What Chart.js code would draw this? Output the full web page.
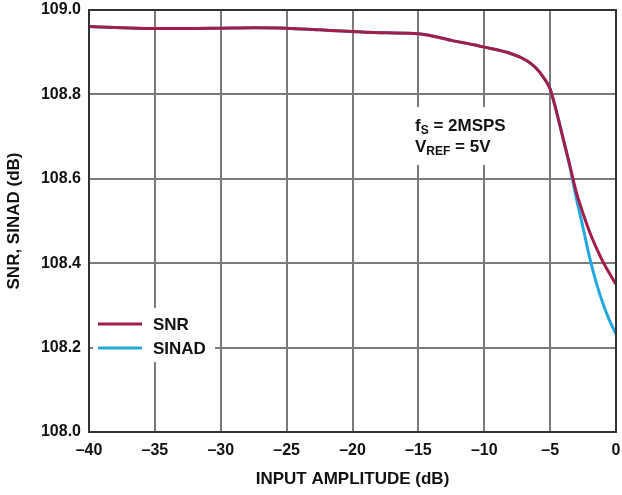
<!DOCTYPE html>
<html>
<head>
<meta charset="utf-8">
<script src="https://cdn.jsdelivr.net/npm/chart.js@4/dist/chart.umd.min.js"></script>
<style>
  html, body { margin: 0; padding: 0; background: #fff; }
  #wrap { width: 622px; height: 495px; }
</style>
</head>
<body>
<div id="wrap"><canvas id="snrChart" width="622" height="495"></canvas></div>
<script>
// input amplitude (dB)
const amplitude = [-40, -37.5, -35, -32.5, -30, -27.5, -25, -22.5, -20, -17.5, -15, -12.5, -10, -8, -7, -6.5, -6, -5.5, -5, -4.5, -4, -3.5, -3, -2.5, -2, -1.5, -1, -0.5, 0];
// SNR (dB)
const snr = [108.961, 108.958, 108.956, 108.956, 108.957, 108.958, 108.957, 108.953, 108.949, 108.946, 108.944, 108.928, 108.912, 108.897, 108.884, 108.874, 108.86, 108.84, 108.813, 108.757, 108.694, 108.631, 108.567, 108.518, 108.474, 108.437, 108.404, 108.376, 108.35];
// SINAD (dB)
const sinad = [108.961, 108.958, 108.956, 108.956, 108.957, 108.958, 108.957, 108.953, 108.949, 108.946, 108.944, 108.928, 108.912, 108.897, 108.884, 108.874, 108.86, 108.84, 108.813, 108.757, 108.693, 108.628, 108.552, 108.484, 108.413, 108.354, 108.305, 108.265, 108.232];

const seriesNames = ['SNR', 'SINAD'];
const seriesColors = ['#a31d4a', '#22a8df'];

const font = 'Liberation Sans, Arial, Helvetica, sans-serif';

function points(ys) {
  return amplitude.map((x, i) => ({ x: x, y: ys[i] }));
}

// legend and conditions box, drawn inside the plot on white
const boxes = {
  id: 'boxes',
  beforeDatasetsDraw(chart) {
    const c = chart.ctx;
    c.save();
    c.fillStyle = '#fff';
    c.fillRect(93, 308, 122, 54);
    c.fillRect(405, 107, 106, 58);

    c.fillStyle = '#111';
    c.textBaseline = 'middle';
    c.font = 'bold 17px ' + font;
    c.fillText('f', 415, 126);
    let w = c.measureText('f').width;
    c.font = 'bold 12px ' + font;
    c.fillText('S', 415 + w, 131);
    let w2 = c.measureText('S').width;
    c.font = 'bold 17px ' + font;
    c.fillText(' = 2MSPS', 415 + w + w2, 126);

    c.fillText('V', 415, 147);
    w = c.measureText('V').width;
    c.font = 'bold 12px ' + font;
    c.fillText('REF', 415 + w, 152);
    w2 = c.measureText('REF').width;
    c.font = 'bold 17px ' + font;
    c.fillText(' = 5V', 415 + w + w2, 147);

    const rows = [324, 348];
    seriesNames.forEach((name, i) => {
      c.strokeStyle = seriesColors[i];
      c.lineWidth = 3;
      c.beginPath();
      c.moveTo(98, rows[i]);
      c.lineTo(142, rows[i]);
      c.stroke();
      c.fillStyle = '#111';
      c.fillText(name, 153, rows[i] + 1);
    });
    c.restore();
  },
  afterDraw(chart) {
    const a = chart.chartArea;
    const c = chart.ctx;
    c.save();
    c.strokeStyle = '#333';
    c.lineWidth = 2;
    c.strokeRect(a.left, a.top, a.right - a.left, a.bottom - a.top);
    c.restore();
  }
};

new Chart(document.getElementById('snrChart'), {
  type: 'line',
  data: {
    // first dataset is drawn on top
    datasets: [
      {
        label: seriesNames[0],
        data: points(snr),
        borderColor: seriesColors[0],
        borderWidth: 3,
        pointRadius: 0,
        cubicInterpolationMode: 'monotone'
      },
      {
        label: seriesNames[1],
        data: points(sinad),
        borderColor: seriesColors[1],
        borderWidth: 3,
        pointRadius: 0,
        cubicInterpolationMode: 'monotone'
      }
    ]
  },
  options: {
    responsive: false,
    animation: false,
    layout: { padding: { top: 10, right: 6, left: 0, bottom: 0 } },
    plugins: { legend: { display: false }, tooltip: { enabled: false } },
    scales: {
      x: {
        type: 'linear',
        min: -40,
        max: 0,
        afterFit: s => { s.height = 63; s.paddingLeft = 0; s.paddingRight = 0; },
        ticks: {
          stepSize: 5,
          padding: 9,
          color: '#111',
          font: { family: font, size: 16, weight: 'bold' },
          callback: v => v < 0 ? '\u2013' + Math.abs(v) : String(v)
        },
        grid: { color: '#7a7a7a', lineWidth: 2, drawTicks: false },
        border: { color: '#333', width: 2 },
        title: {
          display: true,
          text: 'INPUT AMPLITUDE (dB)',
          color: '#111',
          font: { family: font, size: 17, weight: 'bold' },
          padding: { top: 0, bottom: 5 }
        }
      },
      y: {
        min: 108.0,
        max: 109.0,
        afterFit: s => { s.width = 89; s.paddingTop = 0; s.paddingBottom = 0; },
        ticks: {
          stepSize: 0.2,
          padding: 8,
          color: '#111',
          font: { family: font, size: 16, weight: 'bold' },
          callback: v => Number(v).toFixed(1)
        },
        grid: { color: '#7a7a7a', lineWidth: 2, drawTicks: false },
        border: { color: '#333', width: 2 },
        title: {
          display: true,
          text: 'SNR, SINAD (dB)',
          color: '#111',
          font: { family: font, size: 17, weight: 'bold' },
          padding: { top: 4, bottom: 0 }
        }
      }
    }
  },
  plugins: [boxes]
});
</script>
</body>
</html>
